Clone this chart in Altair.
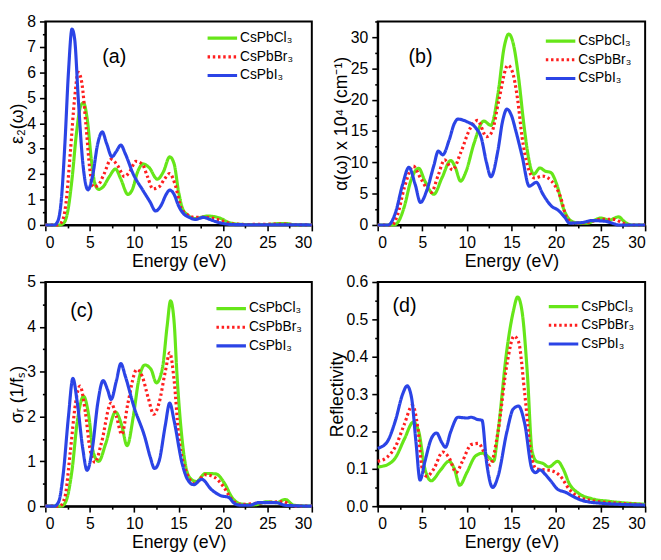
import altair as alt
import pandas as pd

labels = ["CsPbCl₃", "CsPbBr₃", "CsPbI₃"]
colors = ["#66e619", "#ff1f1f", "#2b44e6"]
dashes = [[1, 0], [2.5, 2.8], [1, 0]]

x_ticks = [0, 2.5, 5, 7.5, 10, 12.5, 15, 17.5, 20, 22.5, 25, 27.5, 30]

# ---------------- panel (a) epsilon2 ----------------
a_cl_x = [0, 1.5, 2.0, 2.5, 3.0, 3.5, 4.0, 4.3, 4.7, 5.2, 5.6, 6.0, 6.5, 7.2, 7.9, 8.5, 9.3, 9.8, 10.4, 11.0, 11.7, 12.6, 13.3, 14.0, 14.5, 15.0, 15.5, 16.0, 16.8, 17.5, 18.2, 19.0, 19.8, 20.5, 21.5, 22.5, 25.0, 26.0, 27.0, 28.0, 30.0]
a_cl_y = [0, 0, 0.05, 0.5, 1.8, 3.6, 4.7, 4.8, 4.2, 2.5, 1.6, 1.4, 1.5, 1.9, 2.2, 1.8, 1.2, 1.4, 2.1, 2.4, 2.25, 1.8, 2.1, 2.68, 2.4, 1.3, 0.6, 0.4, 0.25, 0.3, 0.35, 0.33, 0.25, 0.12, 0.04, 0.02, 0.02, 0.05, 0.06, 0.01, 0]
a_br_x = [0, 1.3, 1.8, 2.3, 2.8, 3.3, 3.7, 4.1, 4.6, 5.0, 5.4, 5.9, 6.6, 7.4, 8.2, 8.9, 9.5, 10.2, 10.9, 11.5, 12.1, 12.8, 13.4, 14.0, 14.6, 15.3, 16.0, 16.8, 18.0, 19.0, 20.0, 21.0, 22.5, 25.0, 27.0, 28.0, 30.0]
a_br_y = [0, 0, 0.1, 0.8, 2.8, 5.0, 6.0, 5.6, 3.8, 2.2, 1.5, 1.55, 2.0, 2.58, 2.3, 1.9, 2.1, 2.5, 2.4, 1.9, 1.42, 1.5, 1.8, 2.02, 1.6, 0.66, 0.4, 0.3, 0.3, 0.25, 0.15, 0.05, 0.02, 0.03, 0.04, 0.01, 0]
a_i_x = [0, 1.0, 1.4, 1.8, 2.2, 2.6, 3.0, 3.3, 3.7, 4.2, 4.8, 5.3, 5.9, 6.4, 6.9, 7.5, 8.0, 8.5, 9.0, 9.9, 11.0, 11.8, 12.4, 13.0, 13.6, 14.0, 14.5, 15.0, 15.5, 16.2, 16.9, 17.8, 18.5, 19.3, 20.0, 21.0, 23.0, 25.0, 27.0, 30.0]
a_i_y = [0, 0, 0.15, 1.0, 3.2, 6.0, 7.7, 7.3, 5.0, 2.5, 1.38, 1.9, 3.2, 3.66, 3.2, 2.68, 2.9, 3.14, 2.8, 2.0, 1.35, 0.9, 0.55, 0.75, 1.2, 1.37, 1.2, 0.75, 0.47, 0.3, 0.22, 0.3, 0.22, 0.12, 0.06, 0.02, 0.01, 0.01, 0.01, 0]
a_y_ticks = [0, 0.5, 1, 1.5, 2, 2.5, 3, 3.5, 4, 4.5, 5, 5.5, 6, 6.5, 7, 7.5, 8]

# ---------------- panel (b) absorption ----------------
b_cl_x = [0, 1.8, 2.3, 3.0, 3.7, 4.6, 5.3, 6.3, 7.2, 8.2, 8.7, 9.3, 9.9, 10.8, 11.9, 12.7, 13.5, 14.2, 14.7, 15.2, 15.8, 16.4, 16.9, 17.5, 18.2, 18.8, 19.4, 20.1, 20.8, 21.6, 22.5, 23.5, 25.0, 26.0, 27.0, 27.7, 28.5, 30.0]
b_cl_y = [0, 0, 0.5, 3.0, 7.0, 9.05, 7.0, 4.9, 7.5, 10.3, 9.2, 7.0, 8.5, 13.0, 16.6, 15.9, 21.0, 28.5, 30.5, 29.0, 23.6, 16.0, 10.9, 8.1, 9.1, 8.6, 8.4, 6.4, 2.8, 0.76, 0.3, 0.3, 1.1, 0.8, 1.3, 0.5, 0, 0]
b_br_x = [0, 1.6, 2.2, 3.0, 4.0, 4.8, 6.0, 6.8, 7.5, 8.4, 9.3, 10.4, 11.2, 12.2, 12.8, 13.6, 14.6, 15.1, 15.7, 16.2, 16.8, 17.6, 18.5, 19.5, 20.5, 21.2, 22.0, 23.5, 25.0, 26.5, 27.5, 28.2, 30.0]
b_br_y = [0, 0, 1.5, 6.0, 9.4, 7.5, 5.2, 8.0, 10.4, 8.8, 11.5, 15.5, 16.7, 14.1, 14.8, 20.0, 25.5, 24.5, 20.0, 14.0, 9.5, 7.5, 7.8, 7.0, 4.5, 1.2, 0.3, 0.4, 0.9, 0.9, 0.3, 0, 0]
b_i_x = [0, 1.2, 2.0, 2.8, 3.5, 4.2, 4.8, 5.5, 6.3, 6.8, 7.3, 8.0, 8.6, 9.0, 10.0, 11.0, 11.6, 12.2, 12.7, 13.5, 14.0, 14.5, 15.0, 15.5, 16.2, 17.0, 17.8, 18.5, 19.5, 20.2, 21.0, 21.5, 23.0, 24.0, 25.5, 26.5, 27.0, 30.0]
b_i_y = [0, 0, 2.0, 6.5, 9.2, 6.5, 3.6, 5.5, 9.5, 11.8, 11.2, 13.5, 16.2, 16.9, 16.5, 15.5, 14.0, 10.0, 7.7, 12.0, 16.5, 18.5, 17.5, 15.0, 11.0, 6.2, 6.8, 5.0, 3.0, 2.4, 1.2, 0.3, 0.4, 0.7, 0.6, 0.2, 0, 0]
b_y_ticks = [0, 2.5, 5, 7.5, 10, 12.5, 15, 17.5, 20, 22.5, 25, 27.5, 30, 32.5]

# ---------------- panel (c) conductivity ----------------
c_cl_x = [0, 1.8, 2.3, 3.0, 3.6, 4.3, 4.9, 5.4, 6.0, 6.8, 7.9, 8.6, 9.2, 9.9, 10.5, 11.2, 11.9, 12.5, 13.2, 13.7, 14.1, 14.5, 14.8, 15.5, 16.2, 17.0, 18.0, 19.2, 20.2, 21.0, 22.0, 23.5, 25.0, 26.0, 27.0, 28.0, 30.0]
c_cl_y = [0, 0, 0.1, 0.8, 1.9, 2.45, 2.0, 1.2, 1.0, 1.4, 2.1, 1.8, 1.35, 2.0, 2.8, 3.15, 3.05, 2.75, 3.1, 4.0, 4.58, 4.1, 3.0, 1.3, 0.65, 0.55, 0.73, 0.72, 0.5, 0.2, 0.05, 0.03, 0.1, 0.08, 0.15, 0.02, 0]
c_br_x = [0, 1.6, 2.2, 2.8, 3.4, 3.9, 4.5, 5.0, 5.6, 6.3, 7.4, 8.0, 8.6, 9.3, 10.3, 10.9, 11.6, 12.2, 12.8, 13.5, 14.0, 14.5, 15.0, 16.0, 16.8, 18.0, 19.0, 20.0, 21.0, 22.0, 24.0, 25.5, 26.8, 27.5, 28.0, 30.0]
c_br_y = [0, 0, 0.2, 1.2, 2.3, 2.68, 2.1, 1.3, 0.98, 1.4, 2.3, 2.0, 1.6, 2.3, 3.05, 2.9, 2.4, 2.05, 2.3, 3.0, 3.42, 2.8, 1.6, 0.7, 0.5, 0.7, 0.65, 0.45, 0.15, 0.04, 0.07, 0.09, 0.1, 0.03, 0, 0]
c_i_x = [0, 1.0, 1.5, 2.0, 2.6, 3.1, 3.6, 4.2, 4.7, 5.3, 5.9, 6.5, 7.0, 7.4, 8.0, 8.5, 9.0, 10.0, 11.2, 11.8, 12.3, 12.8, 13.5, 14.0, 14.5, 15.4, 16.0, 16.7, 17.6, 18.7, 19.8, 20.6, 21.3, 22.0, 23.0, 24.0, 26.0, 27.0, 30.0]
c_i_y = [0, 0, 0.1, 0.7, 2.0, 2.85, 2.3, 1.3, 0.8, 1.3, 2.3, 2.8, 2.6, 2.38, 2.8, 3.18, 2.9, 2.2, 1.54, 1.1, 0.84, 1.0, 1.8, 2.3, 1.9, 0.95, 0.6, 0.48, 0.6, 0.37, 0.23, 0.2, 0.06, 0.02, 0.02, 0.08, 0.08, 0.02, 0]
c_y_ticks = [0, 0.5, 1, 1.5, 2, 2.5, 3, 3.5, 4, 4.5, 5]

# ---------------- panel (d) reflectivity ----------------
d_cl_x = [0, 1, 2, 3, 4, 4.6, 5.3, 6.0, 7.0, 8.0, 8.6, 9.2, 10.0, 11.0, 11.8, 12.5, 13.0, 13.5, 14.5, 15.2, 15.7, 16.2, 16.8, 17.3, 17.8, 18.5, 19.2, 20.2, 20.8, 21.5, 22.5, 24, 26, 30]
d_cl_y = [0.105, 0.11, 0.13, 0.18, 0.225, 0.2, 0.1, 0.068, 0.095, 0.12, 0.1, 0.056, 0.09, 0.135, 0.142, 0.13, 0.12, 0.2, 0.42, 0.52, 0.56, 0.52, 0.35, 0.15, 0.12, 0.115, 0.105, 0.12, 0.1, 0.06, 0.035, 0.02, 0.013, 0.005]
d_br_x = [0, 1, 2, 3, 3.9, 4.5, 5.0, 5.5, 6.3, 7.3, 8.0, 8.8, 9.5, 10.5, 11.3, 12.0, 12.6, 13.5, 14.5, 15.3, 15.8, 16.5, 17.2, 17.8, 18.5, 19.5, 20.5, 21.5, 22.5, 24, 27, 30]
d_br_y = [0.12, 0.13, 0.16, 0.22, 0.27, 0.21, 0.1, 0.08, 0.1, 0.145, 0.13, 0.09, 0.12, 0.165, 0.168, 0.14, 0.11, 0.2, 0.38, 0.455, 0.44, 0.3, 0.14, 0.1, 0.098, 0.095, 0.08, 0.045, 0.025, 0.015, 0.008, 0.004]
d_i_x = [0, 1, 2, 2.8, 3.3, 3.8, 4.3, 4.75, 5.3, 6.0, 6.6, 7.2, 7.6, 8.2, 9.0, 10.0, 10.5, 11.2, 11.7, 12.2, 12.9, 13.5, 14.5, 15.2, 15.8, 16.5, 17.3, 17.7, 18.2, 18.8, 19.5, 20.2, 21, 22, 23, 25, 30]
d_i_y = [0.155, 0.17, 0.23, 0.30, 0.322, 0.29, 0.17, 0.07, 0.12, 0.18, 0.196, 0.17, 0.158, 0.2, 0.238, 0.236, 0.238, 0.232, 0.23, 0.12, 0.05, 0.08, 0.2, 0.26, 0.268, 0.22, 0.1, 0.09, 0.097, 0.085, 0.065, 0.045, 0.038, 0.025, 0.015, 0.008, 0.003]
d_y_ticks = [0, 0.05, 0.1, 0.15, 0.2, 0.25, 0.3, 0.35, 0.4, 0.45, 0.5, 0.55, 0.6]


def major_test(step):
    return f"abs(datum.value/{step} - round(datum.value/{step})) < 0.001"


def make_axis(values, step, title, fmt, title_pad=0):
    return alt.Axis(
        values=values,
        title=title,
        format=fmt,
        labelExpr=f"{major_test(step)} ? datum.label : ''",
        tickSize={"condition": {"test": major_test(step), "value": 6}, "value": 3},
        titlePadding=title_pad,
        labelOverlap=False,
    )


def panel(series, y_domain, y_ticks, y_step, y_fmt, y_title, w, h, leg_x, leg_y, tag, tag_x, tag_y):
    rows = []
    for name, (xs, ys) in zip(labels, series):
        for xv, yv in zip(xs, ys):
            rows.append({"s": name, "x": xv, "y": yv})
    df = pd.DataFrame(rows)
    leg = alt.Legend(orient="none", legendX=leg_x, legendY=leg_y, title=None,
                     symbolType="stroke", symbolSize=900, symbolStrokeWidth=3.2,
                     labelFontSize=14, labelFont="Liberation Sans", rowPadding=3,
                     clipHeight=16, labelOffset=1)
    xax = make_axis(x_ticks, 5, "Energy (eV)", ".0f", title_pad=2)
    yax = make_axis(y_ticks, y_step, y_title, y_fmt, title_pad=0)
    xs_ = alt.Scale(domain=[0, 30], nice=False)
    ys_ = alt.Scale(domain=y_domain, nice=False, zero=False)
    layers = []
    for name in labels:
        layers.append(
            alt.Chart(df).transform_filter(alt.datum.s == name)
            .mark_line(interpolate="monotone", strokeWidth=3.2, strokeCap="butt")
            .encode(
                x=alt.X("x:Q", scale=xs_, axis=xax),
                y=alt.Y("y:Q", scale=ys_, axis=yax),
                color=alt.Color("s:N", scale=alt.Scale(domain=labels, range=colors), legend=leg),
                strokeDash=alt.StrokeDash("s:N", scale=alt.Scale(domain=labels, range=dashes), legend=leg),
            )
        )
    tdf = pd.DataFrame({"x": [tag_x], "y": [tag_y], "t": [tag]})
    text = alt.Chart(tdf).mark_text(fontSize=20, font="Liberation Sans", color="black").encode(
        x=alt.X("x:Q", scale=xs_, axis=xax),
        y=alt.Y("y:Q", scale=ys_, axis=yax),
        text="t:N",
    )
    return alt.layer(*layers, text).properties(width=w, height=h)


pa = panel([(a_cl_x, a_cl_y), (a_br_x, a_br_y), (a_i_x, a_i_y)], [0, 8], a_y_ticks, 1, ".0f",
           "ε₂(ω)", 271, 207, 163, 9, "(a)", 7.75, 6.6)
pb = panel([(b_cl_x, b_cl_y), (b_br_x, b_br_y), (b_i_x, b_i_y)], [0, 32.5], b_y_ticks, 5, ".0f",
           "α(ω) x 10⁴ (cm⁻¹)", 272, 207, 169, 12, "(b)", 4.8, 26.8)
pc = panel([(c_cl_x, c_cl_y), (c_br_x, c_br_y), (c_i_x, c_i_y)], [0, 5], c_y_ticks, 1, ".0f",
           "σᵣ (1/fₛ)", 271, 228, 172, 19, "(c)", 4.1, 4.36)
pd_ = panel([(d_cl_x, d_cl_y), (d_br_x, d_br_y), (d_i_x, d_i_y)], [0, 0.6], d_y_ticks, 0.1, ".1f",
            "Reflectivity", 272, 228, 172, 17, "(d)", 3.0, 0.535)

chart = (
    alt.concat(pa, pb, pc, pd_, columns=2, spacing={"row": 2, "column": 7})
    .resolve_scale(color="independent", strokeDash="independent")
    .resolve_legend(color="independent", strokeDash="independent")
    .properties(padding={"left": 0, "top": 0, "right": 0, "bottom": 0})
    .configure_view(stroke="black", strokeWidth=2)
    .configure_axis(
        domainColor="black", domainWidth=2, tickColor="black", tickWidth=1.6,
        labelColor="black", titleColor="black", labelFont="Liberation Sans",
        titleFont="Liberation Sans", labelFontSize=16, titleFontSize=18,
        titleFontWeight="normal", grid=False, labelPadding=4,
    )
)

chart.save("out.html", embed_options={"renderer": "svg", "actions": False})
